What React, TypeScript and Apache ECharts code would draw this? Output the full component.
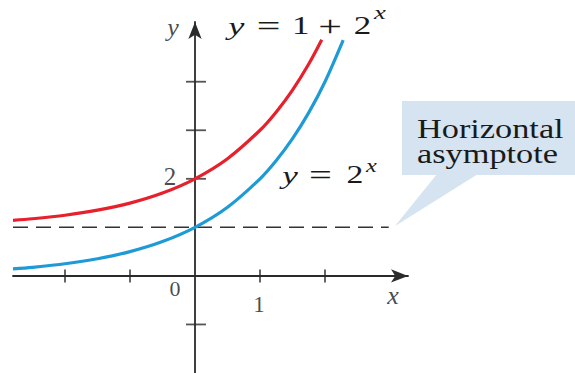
import React, { useEffect, useRef } from "react";
import * as echarts from "echarts";

const redX = [-2.8, -2.5, -2, -1.5, -1, -0.5, 0, 0.5, 1, 1.25, 1.5, 1.75, 1.95];
const redY = [1.144, 1.177, 1.25, 1.354, 1.5, 1.707, 2, 2.414, 3, 3.378, 3.828, 4.364, 4.864];
// y = 2^x (blue)
const blueX = [-2.8, -2.5, -2, -1.5, -1, -0.5, 0, 0.5, 1, 1.25, 1.5, 1.75, 2, 2.28];
const blueY = [0.144, 0.177, 0.25, 0.354, 0.5, 0.707, 1, 1.414, 2, 2.378, 2.828, 3.364, 4, 4.857];
// horizontal asymptote y = 1
const asymX = [-2.8, 2.98];
const asymY = [1, 1];
// tick marks
const xTicks = [-2, -1, 1, 2];
const yTicks = [-1, 2, 3, 4];

const X_MIN = -2.8;
const X_MAX = 3.277;
const Y_MIN = -2;
const Y_MAX = 5.23;

const INK = "#1a1a1a";
const AXIS = "#2b2b2b";
const RED = "#e8202b";
const BLUE = "#1e9bd7";
const SERIF = "'Liberation Serif', 'Times New Roman', serif";

export default function App() {
  const ref = useRef<HTMLDivElement>(null);

  useEffect(() => {
    if (!ref.current) return;
    const chart = echarts.init(ref.current, undefined, { renderer: "svg" });

    const axisLine = {
      show: true,
      onZero: true,
      symbol: ["none", "arrow"],
      symbolSize: [10, 17],
      lineStyle: { color: AXIS, width: 1.8 },
    };

    const tok = (w: number, size: number, italic = false) => ({
      width: w,
      align: "center",
      fontFamily: SERIF,
      fontSize: size,
      fontStyle: italic ? "italic" : "normal",
      fill: INK,
      color: INK,
    });

    const option: any = {
      animation: false,
      backgroundColor: "#ffffff",
      grid: { left: 13, top: 22, width: 395, height: 352.1 },
      xAxis: {
        type: "value",
        min: X_MIN,
        max: X_MAX,
        splitLine: { show: false },
        axisTick: { show: false },
        axisLabel: { show: false },
        axisLine,
      },
      yAxis: {
        type: "value",
        min: Y_MIN,
        max: Y_MAX,
        splitLine: { show: false },
        axisTick: { show: false },
        axisLabel: { show: false },
        axisLine,
      },
      series: [
        {
          type: "line",
          name: "asymptote",
          data: asymX.map((x, i) => [x, asymY[i]]),
          symbol: "none",
          silent: true,
          lineStyle: { color: "#333333", width: 1.5, type: [15, 8] },
          z: 1,
        },
        {
          type: "scatter",
          name: "xticks",
          data: xTicks.map((x) => [x, 0]),
          symbol: "rect",
          symbolSize: [1.8, 13],
          itemStyle: { color: AXIS },
          silent: true,
          z: 1,
        },
        {
          type: "scatter",
          name: "yticks",
          data: yTicks.map((y) => [0.015, y]),
          symbol: "rect",
          symbolSize: [20, 1.8],
          itemStyle: { color: AXIS },
          silent: true,
          z: 1,
        },
        {
          type: "line",
          name: "y = 1 + 2^x",
          data: redX.map((x, i) => [x, redY[i]]),
          smooth: 0.3,
          symbol: "none",
          lineStyle: { color: RED, width: 3.2 },
          z: 3,
        },
        {
          type: "line",
          name: "y = 2^x",
          data: blueX.map((x, i) => [x, blueY[i]]),
          smooth: 0.3,
          symbol: "none",
          lineStyle: { color: BLUE, width: 3.2 },
          z: 3,
        },
        {
          type: "scatter",
          name: "labels",
          symbolSize: 0,
          silent: true,
          z: 4,
          label: {
            show: true,
            position: "inside",
            formatter: "{b}",
            color: INK,
            fontFamily: SERIF,
            fontSize: 23,
          },
          data: [
            { name: "0", value: [0, 0], label: { offset: [-20, 13], fontSize: 22 } },
            { name: "1", value: [1, 0], label: { offset: [-1, 29] } },
            { name: "2", value: [0, 2], label: { offset: [-25, -2], fontSize: 25 } },
            { name: "x", value: [3.0, 0], label: { offset: [3, 20], fontStyle: "italic", fontSize: 26 } },
            { name: "y", value: [0, Y_MAX], label: { offset: [-22, 5], fontStyle: "italic", fontSize: 26 } },
          ],
        },
      ],
      graphic: [
        {
          type: "polygon",
          shape: { points: [[395, 226], [437, 174], [478, 174]] },
          style: { fill: "#d5e4f0" },
          z: 0,
        },
        {
          type: "rect",
          shape: { x: 402, y: 101, width: 173, height: 74 },
          style: { fill: "#d5e4f0" },
          z: 0,
        },
        {
          type: "text",
          x: 417,
          y: 141.6,
          scaleX: 1.27,
          style: {
            text: "Horizontal\nasymptote",
            fill: INK,
            fontFamily: SERIF,
            fontSize: 27,
            lineHeight: 25,
            align: "left",
            verticalAlign: "middle",
          },
          z: 5,
        },
        {
          type: "text",
          x: 228,
          y: 26,
          scaleX: 1.4,
          style: {
            text: "{i|y}{op|=}{n|1}{op2|+}{n2|2}",
            fill: INK,
            fontFamily: SERIF,
            fontSize: 25,
            align: "left",
            verticalAlign: "middle",
            rich: {
              i: tok(12, 26, true),
              op: tok(34, 30),
              n: tok(12, 25),
              op2: tok(30, 30),
              n2: tok(16, 25),
            },
          },
          z: 5,
        },
        {
          type: "text",
          x: 374,
          y: 12,
          scaleX: 1.4,
          style: {
            text: "x",
            fill: INK,
            fontFamily: SERIF,
            fontStyle: "italic",
            fontSize: 19,
            align: "left",
            verticalAlign: "middle",
          },
          z: 5,
        },
        {
          type: "text",
          x: 282,
          y: 175,
          scaleX: 1.35,
          style: {
            text: "{i|y}{op|=}{n|2}",
            fill: INK,
            fontFamily: SERIF,
            fontSize: 25,
            align: "left",
            verticalAlign: "middle",
            rich: {
              i: tok(12, 26, true),
              op: tok(33, 30),
              n: tok(18, 25),
            },
          },
          z: 5,
        },
        {
          type: "text",
          x: 366,
          y: 166,
          scaleX: 1.35,
          style: {
            text: "x",
            fill: INK,
            fontFamily: SERIF,
            fontStyle: "italic",
            fontSize: 18,
            align: "left",
            verticalAlign: "middle",
          },
          z: 5,
        },
      ],
    };

    chart.setOption(option);
    return () => chart.dispose();
  }, []);

  return (
    <div
      ref={ref}
      style={{ position: "absolute", left: 0, top: 0, width: 575, height: 373, background: "#fff" }}
    />
  );
}
